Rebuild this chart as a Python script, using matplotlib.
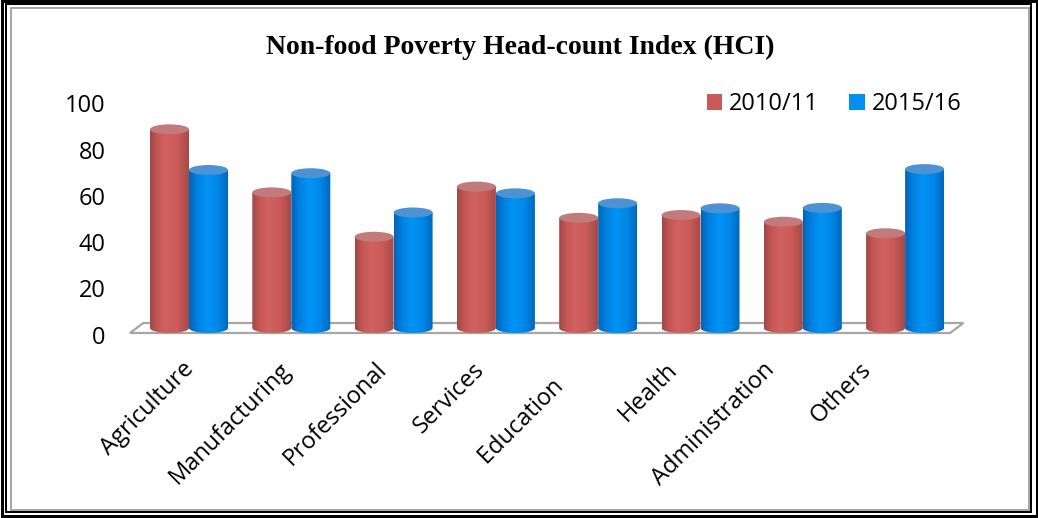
import numpy as np
import matplotlib
matplotlib.use("Agg")
import matplotlib.pyplot as plt
from matplotlib.patches import Rectangle, Ellipse, Polygon, Patch
from matplotlib.colors import LinearSegmentedColormap
from matplotlib.transforms import ScaledTranslation

# ---------------- data ----------------
categories = ["Agriculture", "Manufacturing", "Professional", "Services",
              "Education    ", "Health", "Administration", "Others"]
series_names = ["2010/11", "2015/16"]
values_2010 = [86, 58.7, 39.5, 61.2, 47.7, 48.9, 46, 41]
values_2015 = [68.4, 67, 50, 58.3, 54, 51.8, 52, 68.8]
yticks = [0, 20, 40, 60, 80, 100]
title = "Non-food Poverty Head-count Index (HCI)"

# ---------------- style ----------------
W, H = 1038, 518
FONT = "Open Sans"
fig = plt.figure(figsize=(W / 100, H / 100), dpi=100)
fig.patch.set_facecolor("white")

def fx(px):
    return px / W

def fy(py):
    return 1 - py / H

# frames
def frame(x0, y0, x1, y1, lw_px, color):
    fig.add_artist(Rectangle((fx(x0), fy(y1)), fx(x1) - fx(x0), fy(y0) - fy(y1),
                             transform=fig.transFigure, fill=False,
                             lw=lw_px * 0.72, edgecolor=color, zorder=10))

frame(1.5, 1.0, 1036.5, 516.0, 3, "black")
frame(6, 4, 1031, 512, 2, "black")
frame(11, 8, 1029, 509.5, 2, "#a6a6a6")

# main axes (pixel mapping: x = 189 + 102.3*i ; y = 328 - 2.31*v)
ax_l, ax_r, ax_t, ax_b = 110, 980, 95, 345
ax = fig.add_axes([fx(ax_l), fy(ax_b), fx(ax_r) - fx(ax_l), fy(ax_t) - fy(ax_b)])
xstep, x0px = 102.3, 189
yscale, y0px = 2.31, 328
for s in ax.spines.values():
    s.set_visible(False)
ax.set_facecolor("none")
ax.set_xticks([])
ax.set_yticks(yticks)
ax.set_yticklabels([str(t) for t in yticks], fontsize=17, family=FONT)
ax.tick_params(axis="y", length=0, pad=3)
off = ScaledTranslation(0, -6.5 / 100, fig.dpi_scale_trans)
for lab in ax.get_yticklabels():
    lab.set_transform(lab.get_transform() + off)

bw = 39 / xstep          # bar width in data units
ry = 5.0 / yscale        # half-height of ellipse in data units

# floor
n = len(categories)
fl = -0.5 - 0.077
fr = n - 0.5 - 0.06
dz = 0.13
floor = Polygon([(fl, -ry), (fr, -ry), (fr + dz, ry), (fl + dz, ry)],
                closed=True, facecolor="white", edgecolor="#a6a6a6",
                lw=1.6, zorder=1)
ax.add_patch(floor)

red_cmap = LinearSegmentedColormap.from_list(
    "r", [(0, "#9e4947"), (0.18, "#c45653"), (0.42, "#d26260"),
          (0.72, "#ca5a57"), (1.0, "#a44b49")])
blue_cmap = LinearSegmentedColormap.from_list(
    "b", [(0, "#0064b8"), (0.2, "#0080e0"), (0.45, "#0094f6"),
          (0.75, "#0087e8"), (1.0, "#0068bc")])
top_colors = ["#c17b7a", "#4d93d3"]
cmaps = [red_cmap, blue_cmap]
grad = np.linspace(0, 1, 64).reshape(1, -1)

def cylinder(xc, v, cmap, topc, z):
    x0, x1 = xc - bw / 2, xc + bw / 2
    t = np.linspace(np.pi, 2 * np.pi, 40)
    arc = np.column_stack([xc + bw / 2 * np.cos(t), ry * np.sin(t)])
    pts = np.vstack([[(x0, v), (x0, 0)], arc, [(x1, 0), (x1, v)]])
    body = Polygon(pts, closed=True, facecolor="none", edgecolor="none", zorder=z)
    ax.add_patch(body)
    im = ax.imshow(grad, cmap=cmap, aspect="auto", extent=(x0, x1, -ry, v),
                   zorder=z, interpolation="bilinear")
    im.set_clip_path(body)
    ax.add_patch(Ellipse((xc, v), bw, 2 * ry, facecolor=topc,
                         edgecolor="none", zorder=z + 0.1))

z = 2
for i in range(n):
    for k, vals in enumerate([values_2010, values_2015]):
        xc = i + (k - 0.5) * bw
        cylinder(xc, vals[i], cmaps[k], top_colors[k], z)
        z += 1

ax.set_xlim((ax_l - x0px) / xstep, (ax_r - x0px) / xstep)
ax.set_ylim((y0px - ax_b) / yscale, (y0px - ax_t) / yscale)

# category labels on a separate axis (label anchors: 182 + 96.7*i px)
lab_ax = fig.add_axes(ax.get_position(), frameon=False)
lstep, l0 = 96.7, 182
lab_ax.set_xlim((ax_l - l0) / lstep, (ax_r - l0) / lstep)
lab_ax.set_yticks([])
lab_ax.set_xticks(range(n))
lab_ax.set_xticklabels(categories, rotation=45, ha="right", va="top",
                       rotation_mode="anchor", fontsize=17, family=FONT)
lab_ax.tick_params(axis="x", length=0, pad=9)
lab_ax.patch.set_visible(False)

# legend
handles = [Patch(facecolor="#c85a57", edgecolor="none"),
           Patch(facecolor="#0090f0", edgecolor="none")]
fig.legend(handles, series_names, loc="center",
           bbox_to_anchor=(fx(834), fy(104)), ncol=2, frameon=False,
           prop={"family": FONT, "size": 17}, handlelength=0.64,
           handleheight=0.64, handletextpad=0.3, columnspacing=1.3,
           borderpad=0, borderaxespad=0)

fig.text(fx(520), fy(47), title, ha="center", va="center",
         fontsize=20, fontweight="bold", family="Liberation Serif")

fig.savefig("out.png", dpi=100)
